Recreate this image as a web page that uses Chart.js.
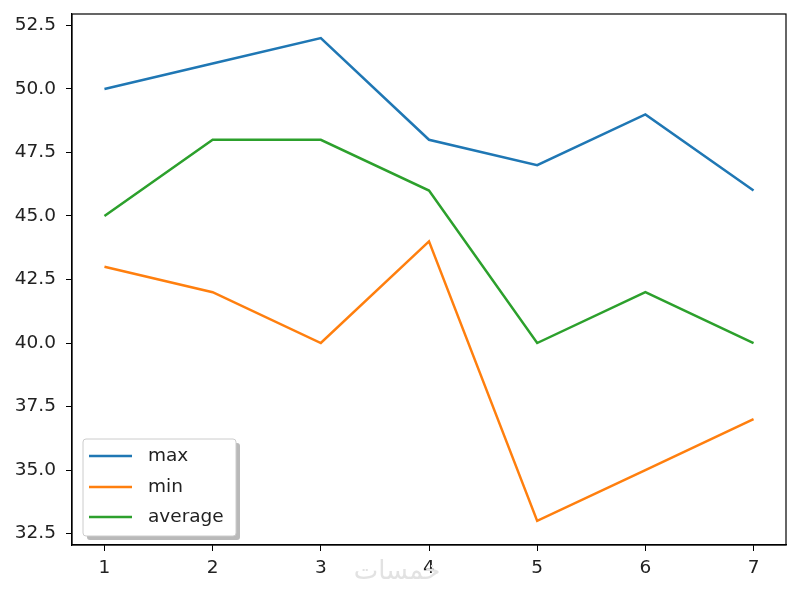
<!DOCTYPE html>
<html lang="en">
<head>
<meta charset="UTF-8">
<title>max / min / average</title>
<script src="https://cdn.jsdelivr.net/npm/chart.js"></script>
<style>
  html, body { margin: 0; padding: 0; background: #fff; }
  #wrap { width: 800px; height: 594px; position: relative; }
</style>
</head>
<body>
<div id="wrap"><canvas id="chart" width="800" height="594"></canvas></div>
<script>
// data
const days = [1, 2, 3, 4, 5, 6, 7];
const maxVals = [50, 51, 52, 48, 47, 49, 46];
const minVals = [43, 42, 40, 44, 33, 35, 37];
const avgVals = [45, 48, 48, 46, 40, 42, 40];
const xTicks = [1, 2, 3, 4, 5, 6, 7];
const yTicks = [32.5, 35, 37.5, 40, 42.5, 45, 47.5, 50, 52.5];
const seriesNames = ['max', 'min', 'average'];
const watermark = 'خمسات';

const colors = ['#1f77b4', '#ff7f0e', '#2ca02c'];
const FONT = 'DejaVu Sans';

function toPoints(vals) {
  return days.map((d, i) => ({ x: d, y: vals[i] }));
}

// frame on top + right, legend box with shadow, watermark
const extras = {
  id: 'extras',
  afterDraw(chart) {
    const ctx = chart.ctx;
    const a = chart.chartArea;
    ctx.save();
    ctx.strokeStyle = '#000';
    ctx.lineWidth = 1.2;
    ctx.strokeRect(a.left, a.top, a.right - a.left, a.bottom - a.top);

    // legend
    const bx = 83, by = 439, bw = 153, bh = 97;
    ctx.fillStyle = 'rgba(128,128,128,0.55)';
    ctx.beginPath();
    ctx.roundRect(bx + 4, by + 4, bw, bh, 3);
    ctx.fill();
    ctx.fillStyle = '#fff';
    ctx.strokeStyle = '#ccc';
    ctx.lineWidth = 1;
    ctx.beginPath();
    ctx.roundRect(bx, by, bw, bh, 3);
    ctx.fill();
    ctx.stroke();
    ctx.font = '18.5px "' + FONT + '"';
    ctx.textBaseline = 'middle';
    ctx.textAlign = 'left';
    const rows = [456, 487, 517];
    seriesNames.forEach((n, i) => {
      ctx.strokeStyle = colors[i];
      ctx.lineWidth = 2.5;
      ctx.beginPath();
      ctx.moveTo(89, rows[i]);
      ctx.lineTo(132, rows[i]);
      ctx.stroke();
      ctx.fillStyle = '#222';
      ctx.fillText(n, 148, rows[i]);
    });

    // watermark
    ctx.fillStyle = '#e2e2e2';
    ctx.font = '26px "' + FONT + '"';
    ctx.textAlign = 'center';
    ctx.fillText(watermark, 397, 572);
    ctx.restore();
  }
};

new Chart(document.getElementById('chart'), {
  type: 'line',
  data: {
    datasets: [maxVals, minVals, avgVals].map((vals, i) => ({
      label: seriesNames[i],
      data: toPoints(vals),
      borderColor: colors[i],
      backgroundColor: colors[i],
      borderWidth: 2.5,
      pointRadius: 0,
      tension: 0,
      fill: false
    }))
  },
  options: {
    responsive: false,
    animation: false,
    events: [],
    layout: { padding: { left: 0, top: 14, right: 14, bottom: 0 } },
    plugins: { legend: { display: false }, tooltip: { enabled: false } },
    scales: {
      x: {
        type: 'linear',
        min: 0.7,
        max: 7.3,
        afterBuildTicks(axis) { axis.ticks = xTicks.map(v => ({ value: v })); },
        afterFit(scale) {
          scale.height = 49;
          scale.paddingLeft = 0;
          scale.paddingRight = 0;
        },
        grid: { drawOnChartArea: false, drawTicks: true, tickLength: 6, color: '#000' },
        border: { color: '#000', width: 1.2 },
        ticks: {
          color: '#222',
          font: { family: FONT, size: 18.5 },
          padding: 6,
          maxRotation: 0,
          callback: v => String(v)
        }
      },
      y: {
        type: 'linear',
        min: 32.05,
        max: 52.95,
        afterBuildTicks(axis) { axis.ticks = yTicks.map(v => ({ value: v })); },
        afterFit(scale) {
          scale.width = 72;
          scale.paddingTop = 0;
          scale.paddingBottom = 0;
        },
        grid: { drawOnChartArea: false, drawTicks: true, tickLength: 6, color: '#000' },
        border: { color: '#000', width: 1.2 },
        ticks: {
          color: '#222',
          font: { family: FONT, size: 18.5 },
          padding: 10,
          callback: v => v.toFixed(1)
        }
      }
    }
  },
  plugins: [extras]
});
</script>
</body>
</html>
